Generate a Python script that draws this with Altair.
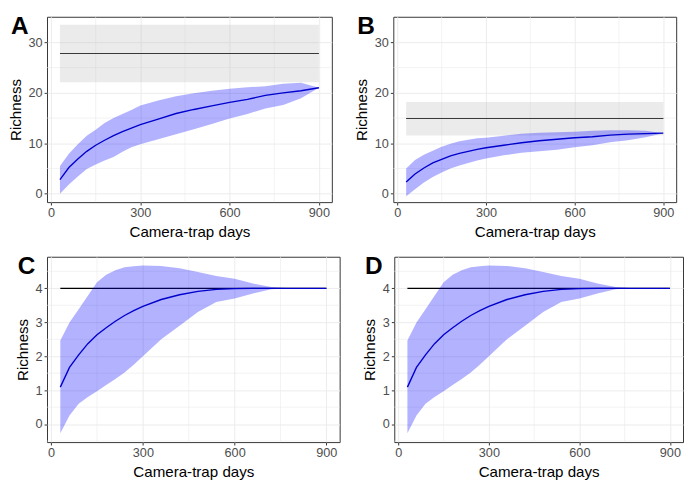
import altair as alt
import pandas as pd

# ---------------- data ----------------
days = [30, 60, 90, 120, 150, 180, 210, 240, 270, 300, 360, 420, 480, 540, 600, 660, 720, 780, 840, 900]

a_mean = [2.8, 5.2, 6.9, 8.4, 9.6, 10.6, 11.5, 12.3, 13.0, 13.7, 14.8, 15.9, 16.7, 17.4, 18.1, 18.7, 19.5, 20.0, 20.4, 21.0]
a_upper = [5.5, 7.9, 9.8, 11.5, 12.7, 14.0, 15.0, 15.8, 16.6, 17.5, 18.5, 19.3, 19.9, 20.4, 20.8, 21.1, 21.3, 21.8, 22.0, 21.0]
a_lower = [0.0, 1.8, 3.4, 4.9, 5.8, 6.6, 7.3, 8.3, 9.2, 9.8, 10.8, 11.8, 12.8, 13.8, 14.9, 15.8, 16.9, 17.6, 18.9, 21.0]

b_mean = [2.3, 3.9, 5.1, 6.1, 6.8, 7.5, 8.0, 8.4, 8.8, 9.1, 9.6, 10.1, 10.5, 10.8, 11.1, 11.3, 11.6, 11.8, 11.9, 12.0]
b_upper = [5.0, 6.7, 7.7, 8.5, 9.3, 9.9, 10.4, 10.7, 11.0, 11.1, 11.5, 11.9, 12.1, 12.2, 12.3, 12.5, 12.6, 12.6, 12.5, 12.0]
b_lower = [-0.5, 0.9, 2.2, 3.3, 4.2, 5.0, 5.6, 6.1, 6.6, 7.0, 7.6, 8.1, 8.4, 8.7, 9.2, 9.6, 10.2, 10.6, 11.2, 12.0]

c_mean = [1.09, 1.67, 2.04, 2.37, 2.63, 2.84, 3.03, 3.20, 3.34, 3.47, 3.67, 3.81, 3.91, 3.97, 3.99, 4.0, 4.0, 4.0, 4.0, 4.0]
c_upper = [2.46, 2.99, 3.38, 3.78, 4.18, 4.40, 4.53, 4.62, 4.65, 4.67, 4.66, 4.59, 4.48, 4.36, 4.28, 4.14, 4.04, 4.0, 4.0, 4.0]
c_lower = [-0.27, 0.25, 0.60, 0.80, 0.97, 1.15, 1.33, 1.52, 1.75, 2.00, 2.50, 2.90, 3.30, 3.60, 3.70, 3.85, 3.97, 4.0, 4.0, 4.0]

d_mean = list(c_mean)
d_upper = list(c_upper)
d_lower = list(c_lower)

# asymptotic estimator: estimate, lower, upper
a_est = [27.8, 22.1, 33.5]
b_est = [14.9, 11.55, 18.2]
c_est = [4.0, 4.0, 4.0]
d_est = [4.0, 4.0, 4.0]

x_ticks = [0, 300, 600, 900]
x_minor = [150, 450, 750]
y_ticks_ab = [0, 10, 20, 30]
y_minor_ab = [5, 15, 25]
y_ticks_cd = [0, 1, 2, 3, 4]
y_minor_cd = [-0.5, 0.5, 1.5, 2.5, 3.5, 4.5]

x_domain = [-13.5, 943.5]
y_domain_ab = [-1.67, 35.07]
y_domain_cd = [-0.53, 4.93]

FONT = "Liberation Sans"
GRID = "#EBEBEB"


def panel(label, mean, lower, upper, est, ydom, yticks, yminor, w, h, show_rect, lab_x):
    df = pd.DataFrame({"days": days, "mean": mean, "lower": lower, "upper": upper})
    xs = alt.Scale(domain=x_domain, nice=False, zero=False)
    ys = alt.Scale(domain=ydom, nice=False, zero=False)
    xaxis = alt.Axis(values=x_ticks, title="Camera-trap days", format="d")
    yaxis = alt.Axis(values=yticks, title="Richness", format="d")

    vminor = alt.Chart(pd.DataFrame({"v": x_minor})).mark_rule(
        color=GRID, strokeWidth=0.6).encode(x=alt.X("v:Q", scale=xs, axis=xaxis))
    hminor = alt.Chart(pd.DataFrame({"v": yminor})).mark_rule(
        color=GRID, strokeWidth=0.6).encode(y=alt.Y("v:Q", scale=ys, axis=yaxis))

    est_df = pd.DataFrame({"x0": [days[0]], "x1": [days[-1]], "est": [est[0]],
                           "lo": [est[1]], "hi": [est[2]]})
    hline = alt.Chart(est_df).mark_rule(color="black", strokeWidth=1.2).encode(
        x=alt.X("x0:Q", scale=xs, axis=xaxis), x2="x1:Q",
        y=alt.Y("est:Q", scale=ys, axis=yaxis))
    rect = alt.Chart(est_df).mark_rect(color="#BEBEBE", opacity=0.3).encode(
        x=alt.X("x0:Q", scale=xs, axis=xaxis), x2="x1:Q",
        y=alt.Y("lo:Q", scale=ys, axis=yaxis), y2="hi:Q")

    ribbon = alt.Chart(df).mark_area(color="#0000FF", opacity=0.3).encode(
        x=alt.X("days:Q", scale=xs, axis=xaxis),
        y=alt.Y("lower:Q", scale=ys, axis=yaxis), y2="upper:Q")
    line = alt.Chart(df).mark_line(color="#0000CC", strokeWidth=1.4).encode(
        x=alt.X("days:Q", scale=xs, axis=xaxis),
        y=alt.Y("mean:Q", scale=ys, axis=yaxis))

    lab = alt.Chart(pd.DataFrame({"t": [label]})).mark_text(
        font=FONT, fontSize=25, fontWeight="bold", align="left", baseline="top",
        color="black").encode(x=alt.value(lab_x), y=alt.value(-2), text="t:N")

    layers = [vminor, hminor, hline]
    if show_rect:
        layers.append(rect)
    layers += [ribbon, line, lab]
    return alt.layer(*layers).properties(width=w, height=h)


pa = panel("A", a_mean, a_lower, a_upper, a_est, y_domain_ab, y_ticks_ab, y_minor_ab, 292, 190, True, -37)
pb = panel("B", b_mean, b_lower, b_upper, b_est, y_domain_ab, y_ticks_ab, y_minor_ab, 290, 190, True, -37)
pc = panel("C", c_mean, c_lower, c_upper, c_est, y_domain_cd, y_ticks_cd, y_minor_cd, 300, 190, False, -30)
pd_ = panel("D", d_mean, d_lower, d_upper, d_est, y_domain_cd, y_ticks_cd, y_minor_cd, 296, 190, False, -30)

chart = alt.vconcat(
    alt.hconcat(pa, pb, spacing=22),
    alt.hconcat(pc, pd_, spacing=22),
    spacing=14,
).properties(padding=0).configure_view(
    stroke="#333333", strokeWidth=1
).configure_axis(
    grid=True, gridColor=GRID, gridWidth=1, domain=False,
    tickColor="#333333", tickSize=3, tickWidth=1,
    labelFont=FONT, labelFontSize=13, labelColor="#4D4D4D", labelPadding=2,
    titleFont=FONT, titleFontSize=15.5, titleFontWeight="normal", titleColor="black",
    titlePadding=5,
)

chart.save("out.html", embed_options={"renderer": "svg", "actions": False})
